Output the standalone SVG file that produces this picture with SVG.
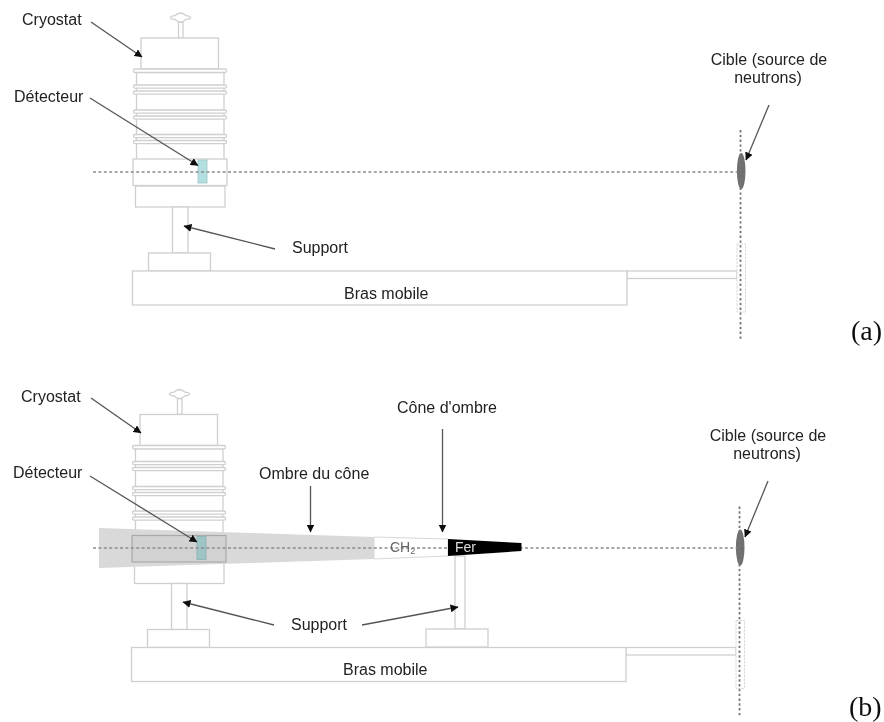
<svg xmlns="http://www.w3.org/2000/svg" xmlns:xlink="http://www.w3.org/1999/xlink" width="884" height="722" viewBox="0 0 884 722">
<style>
.o{fill:#fff;stroke:#cfcfcf;stroke-width:1.3}
.d{fill:none;stroke:#8c8c8c;stroke-width:1.4;stroke-dasharray:3 2.4}
.v{fill:none;stroke:#777;stroke-width:1.8;stroke-dasharray:2.400 2.400}
.a{fill:none;stroke:#555;stroke-width:1.3;marker-end:url(#ah)}
text{font-family:"Liberation Sans",Arial,sans-serif;font-size:16px;fill:#222}
.t{font-family:"Liberation Serif","Times New Roman",serif;font-size:28px;fill:#111}
</style>
<defs>
<filter id="soft" x="0" y="0" width="100%" height="100%" filterUnits="objectBoundingBox"><feGaussianBlur stdDeviation="0.45"/></filter>
<marker id="ah" markerWidth="8" markerHeight="8" refX="7.500" refY="4" orient="auto" markerUnits="userSpaceOnUse"><path d="M0 0L8 4L0 8z" fill="#111"/></marker>
<g id="cryo">
<path class="o" d="M178.500 22V38H183V22z"/>
<path class="o" d="M180.500 13c-3 0-4.500 2-5.500 2.600c-2 .2-4.500 .6-4.500 1.900s2.500 1.700 4.500 1.900c1 .6 2.500 2.600 5.500 2.600s4.500-2 5.500-2.600c2-.2 4.500-.6 4.500-1.900s-2.500-1.700-4.500-1.900c-1-.6-2.500-2.600-5.500-2.600z"/>
<rect class="o" x="136.500" y="70" width="87.500" height="90"/>
<rect class="o" x="141" y="38" width="77.500" height="31"/>
<rect class="o" x="133.500" y="69" width="93" height="3.500" rx="1.500"/>
<rect class="o" x="133.500" y="85" width="93" height="3.200" rx="1.500"/>
<rect class="o" x="133.500" y="91" width="93" height="3.200" rx="1.500"/>
<rect class="o" x="133.500" y="110" width="93" height="3.200" rx="1.500"/>
<rect class="o" x="133.500" y="116" width="93" height="3.200" rx="1.500"/>
<rect class="o" x="133.500" y="134.500" width="93" height="3.200" rx="1.500"/>
<rect class="o" x="133.500" y="140.500" width="93" height="3.200" rx="1.500"/>
<rect class="o" x="135.500" y="186" width="89.500" height="21"/>
<rect class="o" x="172.500" y="207" width="15.500" height="46"/>
<rect class="o" x="148.500" y="253" width="62" height="18"/>
</g>
<g id="arm">
<rect class="o" x="627" y="271" width="110" height="7.500"/>
<rect class="o" x="132.500" y="271" width="494.500" height="34"/>
<rect x="737" y="244" width="8.500" height="68" fill="#fff" stroke="#d8d8d8" stroke-dasharray="2.500 1"/>
</g>
<g id="tgt">
<ellipse cx="741.200" cy="171" rx="4.300" ry="18" fill="#6f6f6f"/>
<line class="v" x1="740.500" y1="130" x2="740.500" y2="340"/>
</g>
</defs>
<g filter="url(#soft)">
<rect width="884" height="722" fill="#fff"/>
<g id="panel-a">
<g id="a-cryostat"><use xlink:href="#cryo"/><rect class="o" x="133" y="159" width="94" height="26.500"/><rect x="198" y="160" width="9" height="23" fill="#b4dfe0" stroke="#9cc6c8" stroke-width=".8"/></g>
<g id="a-arm"><use xlink:href="#arm"/></g>
<g id="a-target"><use xlink:href="#tgt"/></g>
<g id="a-connectors">
<line class="d" x1="93" y1="172" x2="738" y2="172"/>
<line class="a" x1="91" y1="22" x2="142" y2="57"/>
<line class="a" x1="90" y1="98" x2="198" y2="165.500"/>
<line class="a" x1="275" y1="249" x2="184" y2="226"/>
<line class="a" x1="769" y1="105" x2="746" y2="160"/>
</g>
<g id="a-labels">
<text x="22" y="25">Cryostat</text>
<text x="14" y="102">Détecteur</text>
<text x="292" y="253">Support</text>
<text x="344" y="299">Bras mobile</text>
<text x="769" y="65" text-anchor="middle">Cible (source de</text>
<text x="768" y="83" text-anchor="middle">neutrons)</text>
<text class="t" x="851" y="340">(a)</text>
</g>
</g>
<g id="panel-b">
<g id="b-cryostat" transform="translate(-1 376.500)"><use xlink:href="#cryo"/></g>
<g id="b-arm" transform="translate(-1 376.500)"><use xlink:href="#arm"/></g>
<g id="b-target" transform="translate(-1 376.500)"><use xlink:href="#tgt"/></g>
<g id="b-cone-support"><rect class="o" x="455" y="556" width="10" height="73"/><rect class="o" x="426" y="629" width="62" height="18"/></g>
<g id="b-shadow"><path d="M99 528L374 537V559L99 568z" fill="#d9d9d9"/></g>
<g id="b-detector"><rect x="132" y="535.500" width="94" height="26.500" fill="#d2d2d2" stroke="#aaa" stroke-width="1.200"/><rect x="197" y="536.500" width="9" height="23" fill="#9fc4c6" stroke="#8bb0b2" stroke-width=".8"/></g>
<g id="b-ch2"><path d="M374 537L448 539V556L374 559z" fill="#fff" stroke="#d8d8d8"/></g>
<g id="b-connectors">
<line class="d" x1="93" y1="548" x2="737" y2="548"/>
<line class="a" x1="91" y1="398" x2="141" y2="433"/>
<line class="a" x1="90" y1="476" x2="197" y2="542"/>
<line class="a" x1="274" y1="625" x2="183" y2="602"/>
<line class="a" x1="362" y1="625" x2="458" y2="607"/>
<line class="a" x1="310.500" y1="486" x2="310.500" y2="532"/>
<line class="a" x1="442.500" y1="429" x2="442.500" y2="532"/>
<line class="a" x1="768" y1="481" x2="745" y2="537"/>
</g>
<g id="b-fer"><path d="M448 539L521.500 543V551L448 556z" fill="#000"/></g>
<g id="b-labels">
<text x="21" y="402">Cryostat</text>
<text x="13" y="478">Détecteur</text>
<text x="259" y="479">Ombre du cône</text>
<text x="397" y="413">Cône d'ombre</text>
<text x="291" y="630">Support</text>
<text x="343" y="675">Bras mobile</text>
<text x="390" y="552" style="fill:#666;font-size:14px">CH<tspan font-size="9" dy="2">2</tspan></text>
<text x="455" y="552" style="fill:#ddd;font-size:14px">Fer</text>
<text x="768" y="441" text-anchor="middle">Cible (source de</text>
<text x="767" y="459" text-anchor="middle">neutrons)</text>
<text class="t" x="849" y="716">(b)</text>
</g>
</g>
</g>
</svg>
